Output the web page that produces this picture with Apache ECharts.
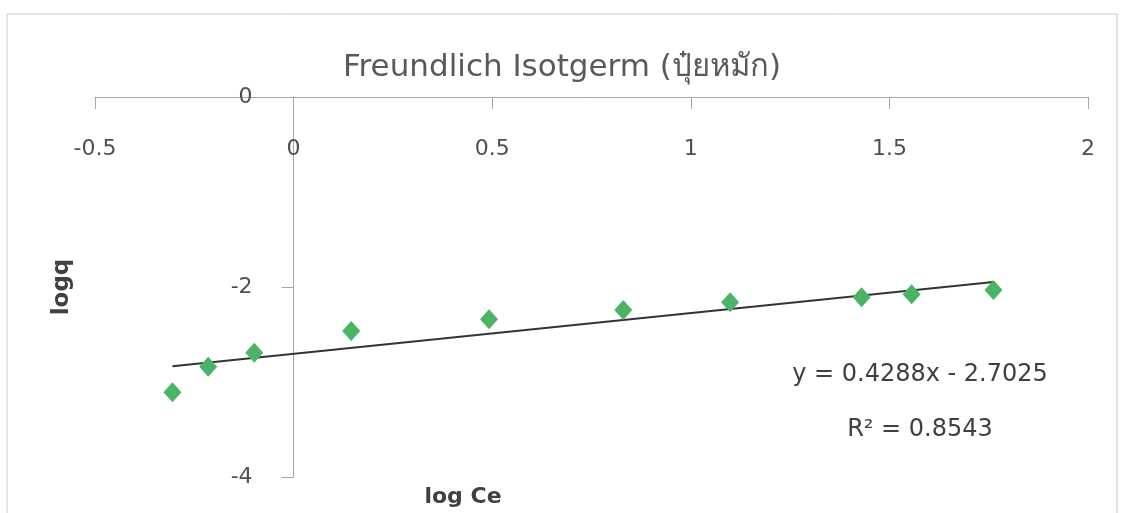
<!DOCTYPE html>
<html>
	<head>
		<meta charset="utf-8">
		<title>Freundlich Isotgerm</title>
		<script src="https://cdn.jsdelivr.net/npm/echarts@6/dist/echarts.min.js"></script>
		<style>
			html, body { margin: 0; padding: 0; background: #fff; }
			#main { width: 1124px; height: 513px; }
		</style>
	</head>
	<body>
		<div id="main"></div>
		<script>
			// ข้อมูลที่อ่านจากกราฟ (log Ce, log q)
			var logCe = [-0.305, -0.215, -0.099, 0.145, 0.492, 0.830, 1.099, 1.430, 1.556, 1.762];
			var logQ = [-3.108, -2.839, -2.692, -2.463, -2.340, -2.242, -2.161, -2.108, -2.077, -2.032];
			var xTicks = [-0.5, 0, 0.5, 1, 1.5, 2];
			var yTicks = [-4, -2, 0];
			// เส้นแนวโน้มตามสมการในกราฟ
			var slope = 0.4288;
			var intercept = -2.7025;
			var eqText = 'y = 0.4288x - 2.7025';
			var r2Text = 'R² = 0.8543';

			var points = logCe.map(function (x, i) { return [x, logQ[i]]; });
			var xMin = Math.min.apply(null, logCe);
			var xMax = Math.max.apply(null, logCe);
			var trend = [[xMin, slope * xMin + intercept], [xMax, slope * xMax + intercept]];

			var font = '"DejaVu Sans", "Noto Sans", sans-serif';
			var gridLeft = 95, gridRight = 36;
			var gridW = 1124 - gridLeft - gridRight;
			var xLo = xTicks[0], xHi = xTicks[xTicks.length - 1];
			// แกน y อยู่ที่ x = 0
			var yAxisOffset = -gridW * (0 - xLo) / (xHi - xLo);

			var myChart = echarts.init(document.getElementById('main'));
			var option = {
				backgroundColor: '#fff',
				animation: false,
				title: {
					text: 'Freundlich Isotgerm (ปุ๋ยหมัก)',
					left: 'center',
					top: 47,
					textStyle: { fontFamily: font, fontSize: 31, fontWeight: 'normal', color: '#595959' }
				},
				grid: { left: gridLeft, right: gridRight, top: 97, bottom: 36 },
				xAxis: {
					type: 'value',
					position: 'top',
					min: xLo,
					max: xHi,
					interval: 0.5,
					axisLine: { onZero: false, lineStyle: { color: '#a6a6a6', width: 1 } },
					axisTick: { show: true, inside: true, length: 12, lineStyle: { color: '#a6a6a6' } },
					axisLabel: { inside: true, margin: 41, fontFamily: font, fontSize: 22, color: '#505050' },
					splitLine: { show: false }
				},
				yAxis: {
					type: 'value',
					position: 'left',
					offset: yAxisOffset,
					min: yTicks[0],
					max: yTicks[yTicks.length - 1],
					interval: 2,
					axisLine: { show: true, onZero: false, lineStyle: { color: '#a6a6a6', width: 1 } },
					axisTick: { show: true, length: 12, lineStyle: { color: '#a6a6a6' } },
					axisLabel: { margin: 41, padding: [0, 0, 8, 0], fontFamily: font, fontSize: 22, color: '#505050' },
					splitLine: { show: false }
				},
				graphic: [
					{
						type: 'rect',
						shape: { x: 7, y: 14, width: 1110, height: 520 },
						style: { fill: 'none', stroke: '#c8c8c8', lineWidth: 1 },
						silent: true
					},
					{
						type: 'text',
						x: 62, y: 287,
						rotation: Math.PI / 2,
						style: { text: 'logq', font: 'bold 23px ' + font, fill: '#404040', align: 'center', verticalAlign: 'middle' }
					},
					{
						type: 'text',
						x: 463, y: 497,
						style: { text: 'log Ce', font: 'bold 22px ' + font, fill: '#404040', align: 'center', verticalAlign: 'middle' }
					},
					{
						type: 'text',
						x: 920, y: 375,
						style: { text: eqText, font: '24px ' + font, fill: '#404040', align: 'center', verticalAlign: 'middle' }
					},
					{
						type: 'text',
						x: 920, y: 430,
						style: { text: r2Text, font: '24px ' + font, fill: '#404040', align: 'center', verticalAlign: 'middle' }
					}
				],
				series: [
					{
						name: 'trend',
						type: 'line',
						data: trend,
						showSymbol: false,
						lineStyle: { color: '#333333', width: 2 },
						z: 2
					},
					{
						name: 'logq',
						type: 'scatter',
						data: points,
						symbol: 'diamond',
						symbolSize: [18, 20],
						itemStyle: { color: '#4bb365', opacity: 1 },
						z: 3
					}
				]
			};
			myChart.setOption(option);
		</script>
	</body>
</html>
